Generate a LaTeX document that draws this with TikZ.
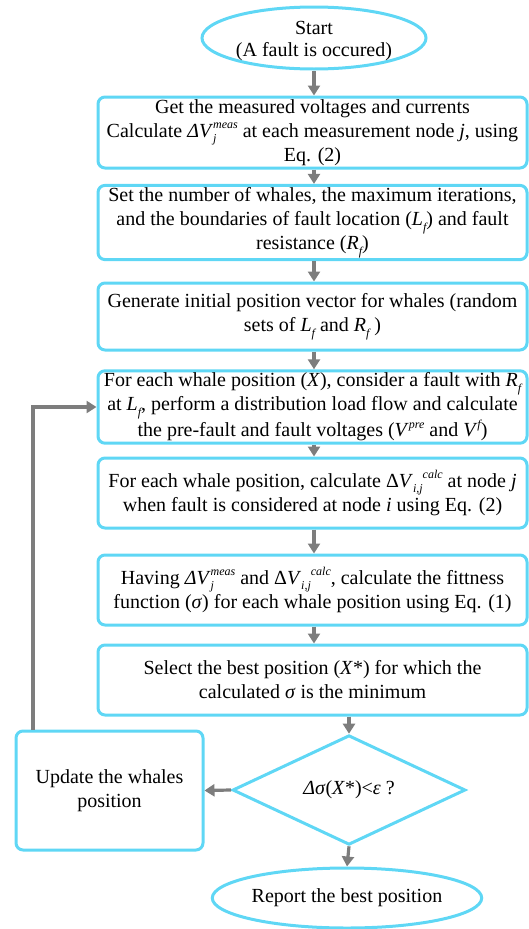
\documentclass[tikz,border=0pt]{standalone}
\usepackage{fontspec}
\setmainfont{Liberation Serif}
\usetikzlibrary{shapes.geometric,arrows.meta}

\definecolor{edgecyan}{RGB}{95,215,245}
\definecolor{flowgray}{RGB}{125,125,125}

% small raised / lowered script text
\newcommand\upidx[1]{\raisebox{0.42em}{\fontsize{12}{12}\selectfont\itshape #1}}
\newcommand\dnidx[1]{\raisebox{-0.28em}{\fontsize{12}{12}\selectfont\itshape #1}}
% superscript stacked over subscript
\newcommand\supsub[2]{%
  \setbox0=\hbox{\upidx{#1}}%
  \setbox2=\hbox{\dnidx{#2}}%
  \ifdim\wd0>\wd2 \rlap{\copy2}\copy0 \else \rlap{\copy0}\copy2 \fi}

\tikzset{
  stepbox/.style={draw=edgecyan, line width=3pt, rounded corners=7pt,
    minimum width=429pt, align=center, inner sep=2pt, fill=white},
  oval/.style={draw=edgecyan, line width=3pt, ellipse, align=center, inner sep=0pt},
  decision/.style={draw=edgecyan, line width=3pt, diamond, align=center, inner sep=0pt},
  plain/.style={align=center, inner sep=0pt},
  flow/.style={draw=flowgray, line width=3.2pt,
    -{Triangle[length=10pt,width=12pt]}},
}

\begin{document}
\begin{tikzpicture}[x=1pt,y=-1pt,
  every node/.style={font=\fontsize{20}{24}\selectfont}]
\useasboundingbox (0,0) rectangle (529,929);

\node[oval, minimum width=224pt, minimum height=62pt] (start) at (314,38) {};
\node[plain, font=\fontsize{20}{22}\selectfont] (starttext) at ([yshift=-3pt]start.center)
  {Start\\(A fault is occured)};

\node[stepbox, minimum height=71pt] (b1) at (312.5,132.5)
  {Get the measured voltages and currents\\
   Calculate \textit{ΔV}\supsub{meas}{j} at each measurement node \textit{j}, using\\
   Eq. (2)};

\node[stepbox, minimum height=71pt] (b2) at (312.5,222.5)
  {Set the number of whales, the maximum iterations,\\
   and the boundaries of fault location (\textit{L}\dnidx{f}) and fault\\
   resistance (\textit{R}\dnidx{f})};

\node[stepbox, minimum height=67pt] (b3) at (312.5,316.5)
  {Generate initial position vector for whales (random\\
   sets of \textit{L}\dnidx{f} and \textit{R}\dnidx{f} )};

\node[stepbox, minimum height=70pt] (b4) at (312.5,407)
  {For each whale position (\textit{X}), consider a fault with \textit{R}\dnidx{f}\\
   at \textit{L}\dnidx{f}, perform a distribution load flow and calculate\\
   the pre-fault and fault voltages (\textit{V}\upidx{pre} and \textit{V}\upidx{f})};

\node[stepbox, minimum height=70pt] (b5) at (312.5,493)
  {For each whale position, calculate Δ\textit{V}\dnidx{i,j}\upidx{calc} at node \textit{j}\\
   when fault is considered at node \textit{i} using Eq. (2)};

\node[stepbox, minimum height=70pt] (b6) at (312.5,590)
  {Having \textit{ΔV}\supsub{meas}{j} and Δ\textit{V}\dnidx{i,j}\upidx{calc}, calculate the fittness\\
   function (\textit{σ}) for each whale position using Eq. (1)};

\node[stepbox, minimum height=70pt] (b7) at (312.5,680)
  {Select the best position (\textit{X}*) for which the\\
   calculated \textit{σ} is the minimum};

\node[decision, minimum width=233pt, minimum height=104pt] (dec) at (349,790)
  {\textit{Δσ}(\textit{X}*)<\textit{ε} ?};

\node[stepbox, minimum width=187pt, minimum height=119pt] (upd) at (109.5,790.5)
  {Update the whales\\position};

\node[oval, minimum width=219pt, minimum height=60pt] (stop) at (347,898)
  {Report the best position};

\coordinate (loop) at (33,0);

% main column
\draw[flow] (start.south) -- (start.south |- b1.north);
\draw[flow] (b1.south -| start.south) -- (start.south |- b2.north);
\draw[flow] (b2.south -| start.south) -- (start.south |- b3.north);
\draw[flow] (b3.south -| start.south) -- (start.south |- b4.north);
\draw[flow] (b4.south -| start.south) -- (start.south |- b5.north);
\draw[flow] (b5.south -| start.south) -- (start.south |- b6.north);
\draw[flow] (b6.south -| start.south) -- (start.south |- b7.north);
\draw[flow] (b7.south -| dec.north) -- (dec.north);
\draw[flow] (dec.south) -- (stop.north);

% iteration loop
\draw[flow] (dec.west) -- (upd.east);
\draw[flow, rounded corners=0pt] (upd.north -| loop) |- (b4.west);
\end{tikzpicture}
\end{document}
